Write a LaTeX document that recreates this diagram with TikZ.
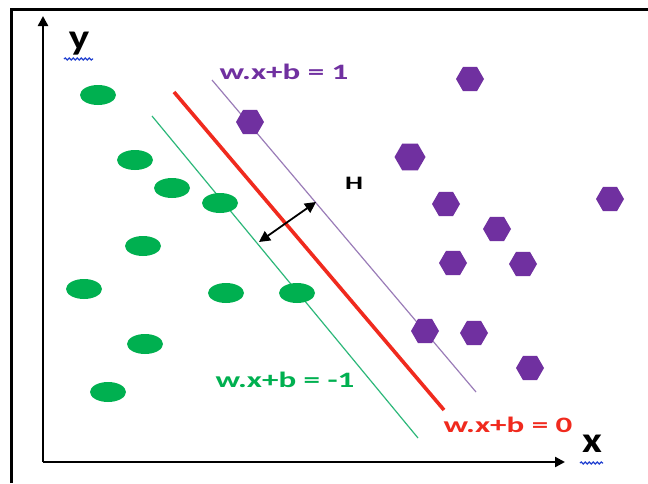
\documentclass[tikz,border=0pt]{standalone}
\usepackage{fontspec}
\setmainfont{Carlito}
\usetikzlibrary{shapes.geometric,arrows.meta,decorations.pathmorphing}
\definecolor{ptgreen}{HTML}{00B050}
\definecolor{ptpurple}{HTML}{7030A0}
\definecolor{lnpurple}{HTML}{9A7CB8}
\definecolor{lngreen}{HTML}{2DB87A}
\definecolor{ptred}{HTML}{F02A1E}
\definecolor{squig}{HTML}{2040D0}
\tikzset{
  gdot/.style={ellipse, fill=ptgreen, draw=none, minimum width=36pt, minimum height=20pt, inner sep=0pt},
  hexa/.style={regular polygon, regular polygon sides=6, fill=ptpurple, draw=none, minimum size=28pt, inner sep=0pt},
  lbl/.style={font=\bfseries\fontsize{22}{22}\selectfont, inner sep=0pt, xscale=1.5},
  axislbl/.style={font=\bfseries\fontsize{36}{36}\selectfont, inner sep=0pt, xscale=1.2},
  squiggle/.style={squig, line width=1.2pt, decorate, decoration={snake, amplitude=1pt, segment length=4pt}},
  axisline/.style={line width=2.4pt, -{Triangle[length=10pt,width=10pt]}}
}
\begin{document}
\begin{tikzpicture}[x=1pt,y=-1pt]
\useasboundingbox (0,0) rectangle (648,483);
\fill[white] (0,0) rectangle (648,483);
% frame
\draw[line width=3pt] (11,483) -- (11,9) -- (648,9);
% axes
\coordinate (O) at (43,462);
\coordinate (xe) at (565,462);
\coordinate (ye) at (43,16);
\draw[axisline] (O) -- (xe);
\draw[axisline] (O) -- (ye);
\node[axislbl] (ylbl) at (79,44) {y};
\node[axislbl] (xlbl) at (592,444) {x};
\draw[squiggle] ([xshift=-15pt,yshift=-15pt]ylbl.center) -- ([xshift=14pt,yshift=-15pt]ylbl.center);
\draw[squiggle] ([xshift=-12pt,yshift=-19pt]xlbl.center) -- ([xshift=11pt,yshift=-19pt]xlbl.center);
% lines
\coordinate (p1) at (212,80);  \coordinate (p2) at (476,392);
\coordinate (r1) at (174,92);  \coordinate (r2) at (444,410);
\coordinate (g1) at (152,116); \coordinate (g2) at (418,438);
\draw[lnpurple, line width=1.2pt] (p1) -- (p2);
\draw[lngreen, line width=1.2pt] (g1) -- (g2);
\draw[ptred, line width=3.6pt] (r1) -- (r2);
% margin arrow
\coordinate (h1) at (259,242);
\coordinate (h2) at (316,202);
\draw[line width=1.8pt, {Triangle[length=11pt,width=11pt]}-{Triangle[length=11pt,width=11pt]}] (h1) -- (h2);
\node[font=\bfseries\fontsize{19}{19}\selectfont, inner sep=0pt, xscale=1.5] (H) at (354,183) {H};
% labels
\node[lbl, text=ptpurple] (l1) at (284,72) {w.x+b = 1};
\node[lbl, text=ptgreen] (lm1) at (285,380) {w.x+b = -1};
\node[lbl, text=ptred] (l0) at (508,425) {w.x+b = 0};
% green points
\node[gdot] (g-1) at (98,95) {};
\node[gdot] (g-2) at (135,160) {};
\node[gdot] (g-3) at (172,188) {};
\node[gdot] (g-4) at (220,203) {};
\node[gdot] (g-5) at (143,246) {};
\node[gdot] (g-6) at (84,289) {};
\node[gdot] (g-7) at (226,293) {};
\node[gdot] (g-8) at (297,293) {};
\node[gdot] (g-9) at (145,344) {};
\node[gdot] (g-10) at (108,392) {};
% purple points
\node[hexa] (h-1) at (470,79) {};
\node[hexa] (h-2) at (250,122) {};
\node[hexa, minimum size=31pt] (h-3) at (410,157) {};
\node[hexa] (h-4) at (446,204) {};
\node[hexa] (h-5) at (497,229) {};
\node[hexa] (h-6) at (610,199) {};
\node[hexa] (h-7) at (453,263) {};
\node[hexa] (h-8) at (523,264) {};
\node[hexa] (h-9) at (425,331) {};
\node[hexa] (h-10) at (474,333) {};
\node[hexa] (h-11) at (530,368) {};
\end{tikzpicture}
\end{document}
